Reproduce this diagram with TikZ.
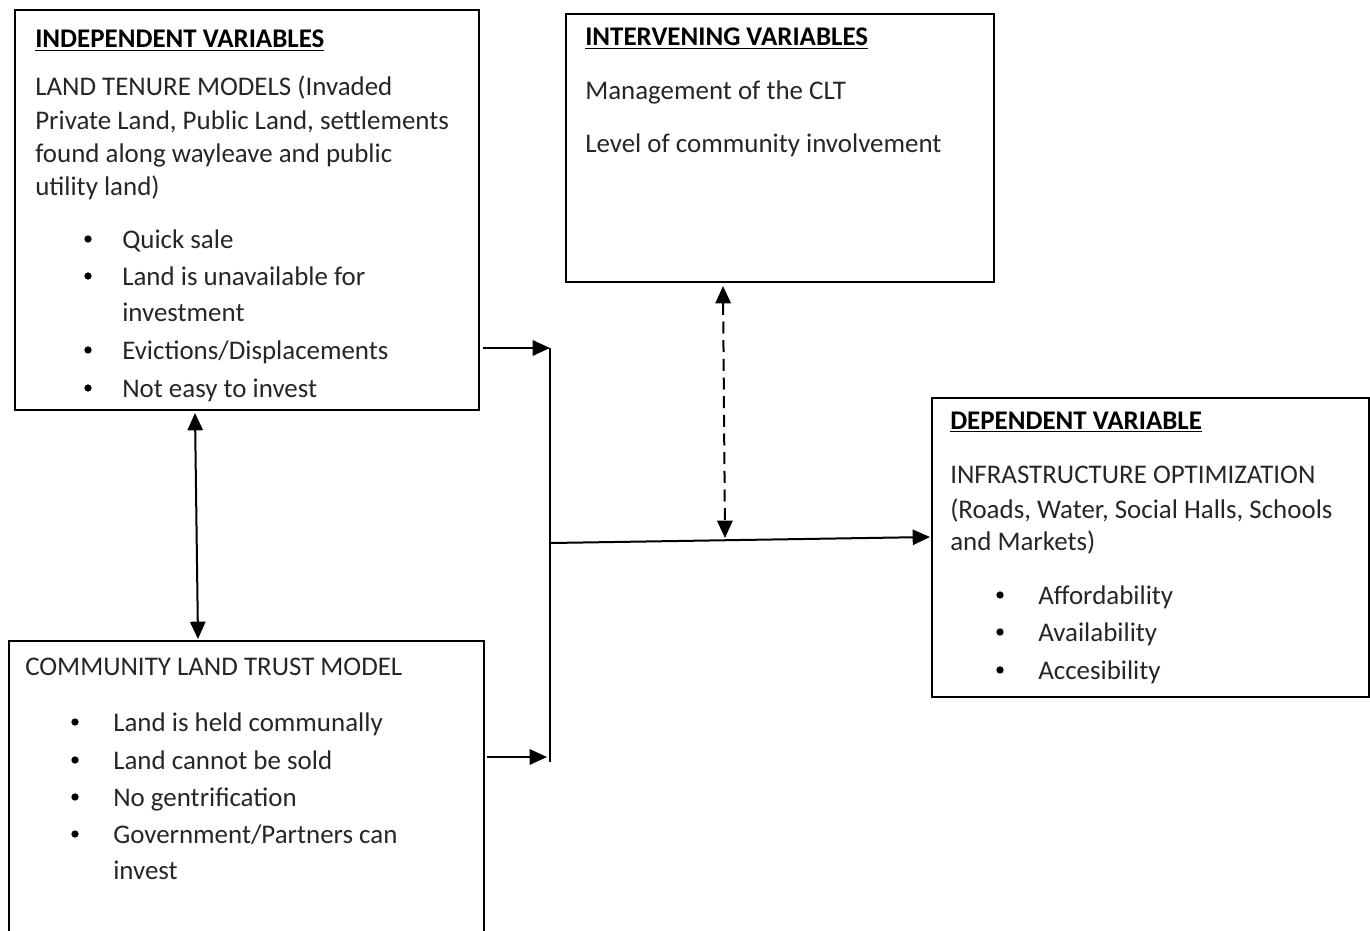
\documentclass[tikz,border=0pt]{standalone}
\usepackage{fontspec}
\setmainfont{Carlito}
\usetikzlibrary{arrows.meta,fit}
\begin{document}
\begin{tikzpicture}[x=0.75pt,y=-0.75pt,
  box/.style={draw, line width=0.9pt, inner sep=0pt},
  txt/.style={anchor=base west, inner sep=0pt, text=black!85, font=\fontsize{20.2}{24}\selectfont},
  hd/.style={txt, text=black, font=\fontsize{20.2}{24}\selectfont\bfseries},
  bul/.style={circle, fill=black, inner sep=0pt, minimum size=5.5pt},
  arr/.style={line width=1.5pt, -{Triangle[length=13pt,width=11.5pt]}},
  darr/.style={line width=1.5pt, {Triangle[length=13pt,width=11.5pt]}-{Triangle[length=13pt,width=11.5pt]}},
  dasharr/.style={darr, dash pattern=on 9pt off 5pt}
]
\useasboundingbox (0,0) rectangle (1370,931);
% boxes
\node[box, fit={(15,10) (479,410)}] (ind) {};
\node[box, fit={(566,14) (994,282)}] (int) {};
\node[box, fit={(932,398) (1369,697)}] (dep) {};
\node[box, fit={(9,641) (484,935)}] (clt) {};

% independent
\node[hd] (i0) at (35,48) {\underline{INDEPENDENT VARIABLES}};
\node[txt] (i1) at (35,95) {LAND TENURE MODELS (Invaded};
\node[txt] (i2) at (35,129) {Private Land, Public Land, settlements};
\node[txt] (i3) at (35,162) {found along wayleave and public};
\node[txt] (i4) at (35,195) {utility land)};
\foreach \y/\t [count=\k] in {239/{Quick sale},276/{Land is unavailable for},312/{investment},350/{Evictions/Displacements},388/{Not easy to invest}}{
  \node[txt] (ib\k) at (122,\y+9) {\t};
}
\foreach \y [count=\k] in {239,276,350,388}{\node[bul] (ibd\k) at (88,\y) {};}

% intervening
\node[hd] (n0) at (585,46) {\underline{INTERVENING VARIABLES}};
\node[txt] (n1) at (585,99) {Management of the CLT};
\node[txt] (n2) at (585,152) {Level of community involvement};

% dependent
\node[hd] (d0) at (950,429) {\underline{DEPENDENT VARIABLE}};
\node[txt] (d1) at (950,483) {INFRASTRUCTURE OPTIMIZATION};
\node[txt] (d2) at (950,518) {(Roads, Water, Social Halls, Schools};
\node[txt] (d3) at (950,550) {and Markets)};
\foreach \y/\t [count=\k] in {595/{Affordability},632/{Availability},670/{Accesibility}}{
  \node[txt] (db\k) at (1038,\y+9) {\t};
  \node[bul] (dbd\k) at (1000,\y) {};
}

% community land trust
\node[txt] (c0) at (25,675) {COMMUNITY LAND TRUST MODEL};
\foreach \y/\t [count=\k] in {722/{Land is held communally},760/{Land cannot be sold},797/{No gentrification},834/{Government/Partners can},870/{invest}}{
  \node[txt] (cb\k) at (113,\y+9) {\t};
}
\foreach \y [count=\k] in {722,760,797,834}{\node[bul] (cbd\k) at (75,\y) {};}

% connectors
\coordinate (vt) at (550,348);
\coordinate (vb) at (550,762);
\coordinate (hs) at (551,543);
\coordinate (he) at (930,537);
\coordinate (a1s) at (483,348);
\coordinate (a2s) at (487,757);
\coordinate (a2e) at (547,757);
\coordinate (dt) at (723,286);
\coordinate (db) at (725,538);
\coordinate (ut) at (195,413);
\coordinate (ub) at (198,639);

\draw[line width=0.9pt] (vt) -- (vb);
\draw[arr] (a1s) -- (vt);
\draw[arr] (a2s) -- (a2e);
\draw[arr] (hs) -- (he);
\draw[dasharr] (dt) -- (db);
\draw[darr] (ut) -- (ub);
\end{tikzpicture}
\end{document}
